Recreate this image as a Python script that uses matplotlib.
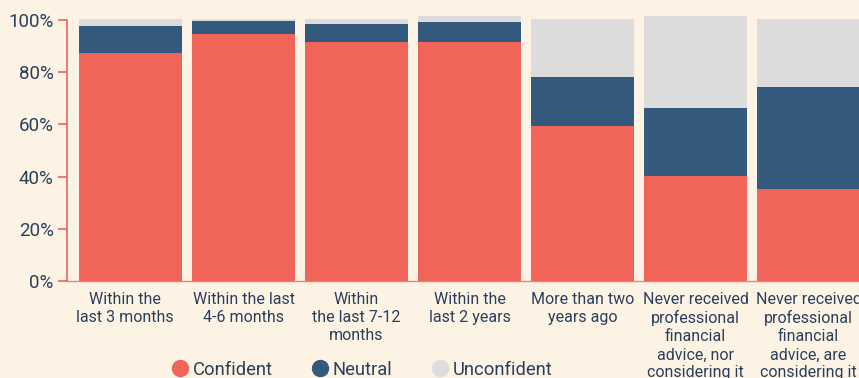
import matplotlib
matplotlib.use("Agg")
import matplotlib.pyplot as plt
from matplotlib.lines import Line2D
from matplotlib.transforms import ScaledTranslation
import numpy as np

plt.rcParams['font.family'] = ['Roboto', 'DejaVu Sans']

categories = [
    "Within the\nlast 3 months",
    "Within the last\n4-6 months",
    "Within\nthe last 7-12\nmonths",
    "Within the\nlast 2 years",
    "More than two\nyears ago",
    "Never received\nprofessional\nfinancial\nadvice, nor\nconsidering it",
    "Never received\nprofessional\nfinancial\nadvice, are\nconsidering it",
]
confident = [87.4, 94.6, 91.6, 91.6, 59.5, 40.3, 35.4]
neutral = [10.3, 5.0, 6.9, 7.6, 18.7, 26.0, 39.0]
unconfident = [2.7, 0.8, 1.9, 2.3, 22.2, 35.2, 26.0]
series_names = ["Confident", "Neutral", "Unconfident"]
yticks = [0, 20, 40, 60, 80, 100]
ytick_labels = ["0%", "20%", "40%", "60%", "80%", "100%"]

bg = "#fdf3e5"
c_conf = "#f0645a"
c_neu = "#335a7d"
c_unc = "#dcdcdc"
txt = "#2b3f5c"

W, H = 859, 378
fig = plt.figure(figsize=(W/100, H/100), dpi=100, facecolor=bg)
ax = fig.add_axes([67/W, 97/H, (859-67)/W, (281)/H])
ax.set_facecolor(bg)

x = np.arange(len(categories))
w = 0.91
conf = np.array(confident); neu = np.array(neutral); unc = np.array(unconfident)
ax.bar(x, conf, width=w, color=c_conf, linewidth=0)
ax.bar(x, neu, width=w, bottom=conf, color=c_neu, linewidth=0)
ax.bar(x, unc, width=w, bottom=conf+neu, color=c_unc, linewidth=0)

ax.set_xlim(-0.562, 6.447)
ax.set_ylim(0, 281.5/2.615)

for s in ['top', 'right']:
    ax.spines[s].set_visible(False)
ax.spines['left'].set_color(c_conf)
ax.spines['left'].set_linewidth(1.2)
ax.spines['left'].set_bounds(0, 100)
ax.spines['bottom'].set_color(c_conf)
ax.spines['bottom'].set_linewidth(1.0)
ax.spines['bottom'].set_alpha(0.8)

ax.set_yticks(yticks)
ax.set_yticklabels(ytick_labels, fontsize=13.5, color=txt)
ax.tick_params(axis='y', length=6.5, width=1.2, color=c_conf, pad=3)
ax.set_xticks(x)
ax.set_xticklabels(categories, fontsize=11.5, color=txt, linespacing=1.25, va='top')
ax.tick_params(axis='x', length=0, pad=8)
lab0 = ax.get_xticklabels()[0]
lab0.set_transform(lab0.get_transform() + ScaledTranslation(-6/100, 0, fig.dpi_scale_trans))

handles = [Line2D([0], [0], marker='o', linestyle='', markersize=11.5, color=c)
           for c in (c_conf, c_neu, c_unc)]
fig.legend(handles, series_names, loc='center', bbox_to_anchor=(0.421, 0.022),
           ncol=3, frameon=False, fontsize=13.2, labelcolor=txt,
           handletextpad=0.2, columnspacing=2.1, handlelength=1.0,
           borderaxespad=0, borderpad=0)

fig.savefig("out.png", dpi=100, facecolor=bg)
